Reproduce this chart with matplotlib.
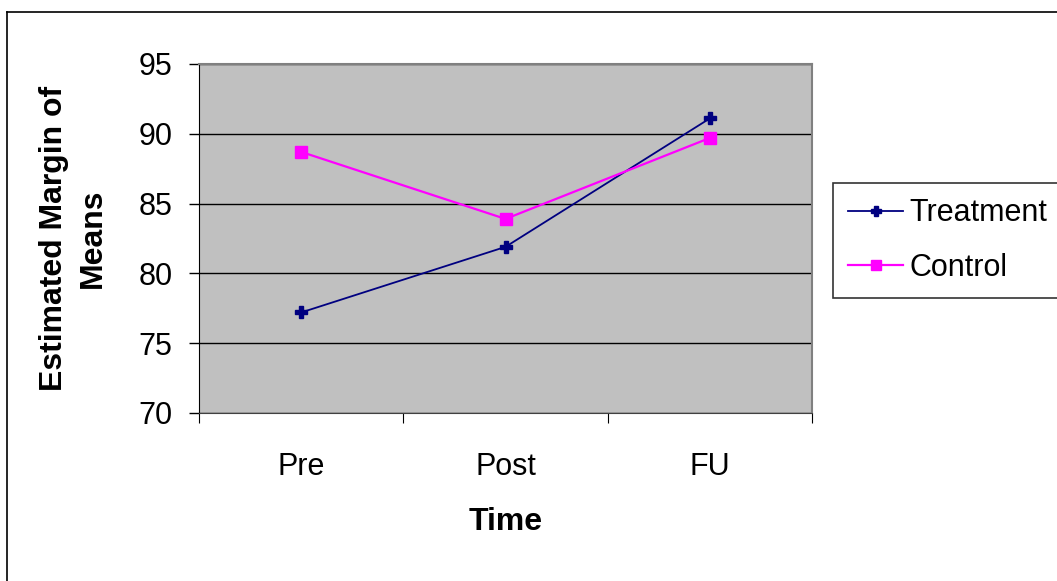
import matplotlib.pyplot as plt
from matplotlib.lines import Line2D

plt.rcParams['font.family'] = ['Liberation Sans', 'DejaVu Sans']

# estimated marginal means per time point
times = ['Pre', 'Post', 'FU']
treatment = [77.2, 81.9, 91.1]
control = [88.7, 83.9, 89.7]
y_ticks = [70, 75, 80, 85, 90, 95]

fig = plt.figure(figsize=(10.57, 5.81), dpi=100)
ax = fig.add_axes([0.1883, 0.2892, 0.5799, 0.6007])
ax.set_facecolor('#C0C0C0')

x = list(range(len(times)))
ax.plot(x, treatment, color='#000080', lw=1.3, marker='P', ms=9,
        mec='#000080', mfc='#000080', label='Treatment', zorder=3)
ax.plot(x, control, color='#FF00FF', lw=1.6, marker='s', ms=8.5,
        mec='#FF00FF', mfc='#FF00FF', label='Control', zorder=3)

ax.set_xlim(-0.5, len(times) - 0.5)
ax.set_ylim(y_ticks[0], y_ticks[-1])
ax.set_yticks(y_ticks)
ax.tick_params(axis='y', direction='out', length=7, width=1, pad=12,
               labelsize=22, color='black')
ax.set_xticks(x)
ax.set_xticklabels(times)
ax.set_xticks([i - 0.5 for i in range(len(times) + 1)], minor=True)
ax.tick_params(axis='x', which='major', length=0, pad=28, labelsize=22)
ax.tick_params(axis='x', which='minor', direction='out', length=7, width=0.8)

ax.yaxis.grid(True, color='black', lw=1)
ax.set_axisbelow(True)
for side in ('top', 'right'):
    ax.spines[side].set_color('#808080')
    ax.spines[side].set_linewidth(1.5)
ax.spines['left'].set_color('black')
ax.spines['bottom'].set_color('#404040')

ax.set_xlabel('Time', fontsize=23, fontweight='bold', labelpad=18)
ax.set_ylabel('Estimated Margin of\nMeans', fontsize=23, fontweight='bold',
              labelpad=22, linespacing=1.4)

leg = ax.legend(loc='upper left', bbox_to_anchor=(833 / 1057, 1 - 183 / 581),
                bbox_transform=fig.transFigure, fontsize=22, frameon=True,
                fancybox=False, edgecolor='black', facecolor='white',
                handlelength=1.8, handletextpad=0.2, borderpad=0.5,
                labelspacing=0.8, markerscale=0.8, borderaxespad=0)
leg.get_frame().set_linewidth(1.2)

# chart area border (left and top edges)
fig.add_artist(Line2D([7 / 1057, 7 / 1057], [0, 1 - 12 / 581],
                      color='black', lw=1.2))
fig.add_artist(Line2D([7 / 1057, 1], [1 - 12 / 581, 1 - 12 / 581],
                      color='black', lw=1.2))

fig.savefig('out.png', dpi=100)
